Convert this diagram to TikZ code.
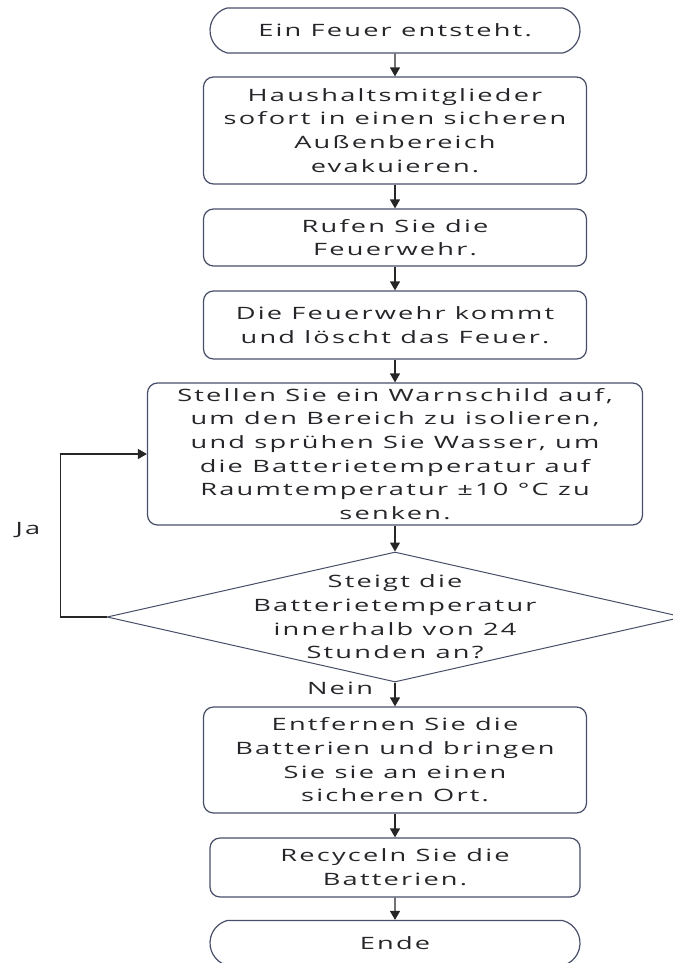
\documentclass[tikz,border=0pt]{standalone}
\usepackage{fontspec}
\setmainfont{Open Sans}[FakeStretch=1.6,LetterSpace=13]
\usepackage{tikz}
\usetikzlibrary{shapes.geometric,shapes.misc,arrows.meta,positioning}
\definecolor{boxline}{RGB}{72,78,104}
\definecolor{txtgrey}{RGB}{38,38,42}

\begin{document}
\begin{tikzpicture}[
    x=1pt, y=-1pt,
    box/.style={draw=boxline, line width=1.2pt, rounded corners=10pt, minimum width=383pt,
                align=center, inner sep=0pt, text=txtgrey, font=\fontsize{17}{23.7}\selectfont},
    term/.style={box, sharp corners, rounded rectangle, rounded rectangle arc length=150,
                 minimum width=370pt, minimum height=45pt},
    decide/.style={draw=boxline, diamond, line width=1pt, inner sep=0pt,
                   minimum width=576pt, minimum height=130pt},
    lbl/.style={text=txtgrey, inner sep=0pt, align=center, font=\fontsize{17}{23.7}\selectfont},
    arr/.style={-{Triangle[width=10pt,length=9pt]}, line width=1.3pt, black!85}
]
    \useasboundingbox (0,0) rectangle (672,963);
    \node[term] (start) at (395, 30.5) {Ein Feuer entsteht.};
    \node[box, minimum height=107pt] (evac) at (395, 130.5)
        {Haushaltsmitglieder\\sofort in einen sicheren\\Außenbereich\\evakuieren.};
    \node[box, minimum height=57pt] (call) at (395, 237.5) {Rufen Sie die\\Feuerwehr.};
    \node[box, minimum height=68pt] (brigade) at (395, 325)
        {Die Feuerwehr kommt\\und löscht das Feuer.};
    \node[box, minimum width=495pt, minimum height=142pt] (cool) at (395, 454)
        {Stellen Sie ein Warnschild auf,\\um den Bereich zu isolieren,\\und sprühen Sie Wasser, um\\die Batterietemperatur auf\\Raumtemperatur ±10 °C zu\\senken.};
    \node[decide] (check) at (395, 617) {};
    \node[lbl] (checktext) at (check.center)
        {Steigt die\\Batterietemperatur\\innerhalb von 24\\Stunden an?};
    \node[box, minimum height=106pt] (remove) at (395, 760)
        {Entfernen Sie die\\Batterien und bringen\\Sie sie an einen\\sicheren Ort.};
    \node[box, minimum width=370pt, minimum height=59pt] (recycle) at (395, 867.5)
        {Recyceln Sie die\\Batterien.};
    \node[term] (finish) at (395, 943) {Ende};
    \node[lbl] (yes) at (28, 530) {Ja};
    \node[lbl] (no) at (340, 688) {Nein};

    \draw[arr] (start) -- (evac);
    \draw[arr] (evac) -- (call);
    \draw[arr] (call) -- (brigade);
    \draw[arr] (brigade) -- (cool);
    \draw[arr] (cool) -- (check);
    \draw[arr] (check) -- (remove);
    \draw[arr] (remove) -- (recycle);
    \draw[arr] (recycle) -- (finish);
    % loop back while temperature rises
    \draw[arr] (check.west) -- ++(-46,0) |- (cool.west);
\end{tikzpicture}
\end{document}
